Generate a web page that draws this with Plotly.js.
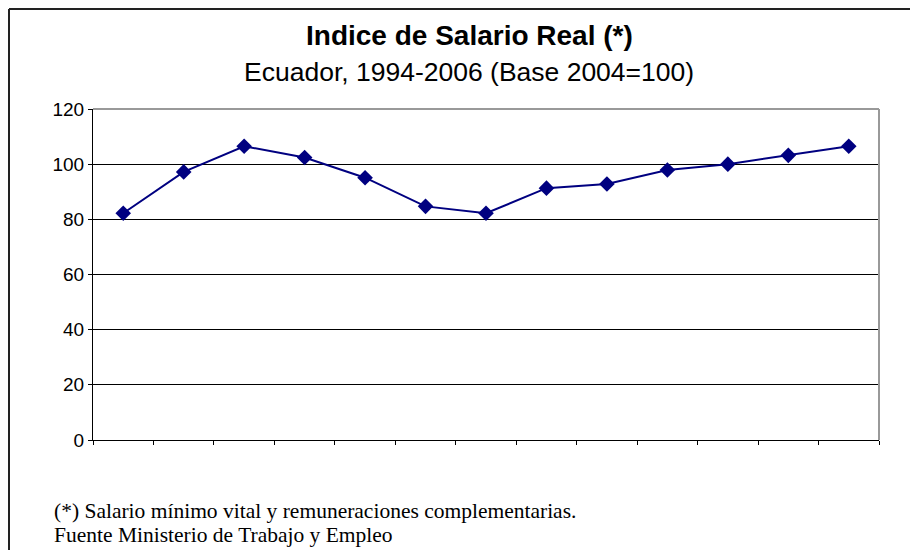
<!DOCTYPE html>
<html>
<head>
<meta charset="utf-8">
<script src="https://cdn.plot.ly/plotly-3.0.1.min.js"></script>
<style>
html,body{margin:0;padding:0;background:#fff;}
#chart{width:910px;height:550px;}
</style>
</head>
<body>
<div id="chart"></div>
<script>
const years = ["1994","1995","1996","1997","1998","1999","2000","2001","2002","2003","2004","2005","2006"];
const salarioReal = [82.2, 97.2, 106.5, 102.4, 95.1, 84.7, 82.2, 91.3, 92.8, 97.9, 100.0, 103.2, 106.5];
const yTicks = [0, 20, 40, 60, 80, 100, 120];

const titleText = "<b>Indice de Salario Real (*)</b>";
const subtitleText = "Ecuador, 1994-2006 (Base 2004=100)";
const note1 = "(*) Salario mínimo vital y remuneraciones complementarias.";
const note2 = "Fuente Ministerio de Trabajo y Empleo";

const L = 93, R = 879, T = 109, B = 440, W = 910, H = 550;
const px = x => (x - L) / (R - L);
const py = y => (B - y) / (B - T);

const trace = {
  x: years,
  y: salarioReal,
  type: "scatter",
  mode: "lines+markers",
  line: {color: "#000080", width: 2},
  marker: {symbol: "diamond", size: 12, color: "#000080"},
  hoverinfo: "x+y"
};

const layout = {
  width: W, height: H,
  margin: {l: L, r: W - R, t: T, b: H - B, pad: 0},
  paper_bgcolor: "#ffffff",
  plot_bgcolor: "#ffffff",
  showlegend: false,
  font: {family: "Liberation Sans, Arial, sans-serif", color: "#000"},
  xaxis: {
    type: "category",
    range: [-0.5, years.length - 0.5],
    autorange: false,
    showticklabels: false,
    showgrid: false,
    ticks: "outside",
    tickson: "boundaries",
    ticklen: 4,
    tickcolor: "#000",
    tickwidth: 1,
    showline: true,
    linecolor: "#000",
    linewidth: 1,
    mirror: false,
    zeroline: false,
    fixedrange: true
  },
  yaxis: {
    range: [0, 120],
    tickvals: yTicks,
    ticktext: yTicks.map(String),
    ticks: "outside",
    ticklen: 4,
    tickcolor: "#000",
    tickfont: {size: 19, family: "Liberation Sans, Arial, sans-serif", color: "#000"},
    showgrid: true,
    gridcolor: "#000",
    gridwidth: 1,
    showline: true,
    linecolor: "#000",
    linewidth: 1,
    zeroline: false,
    fixedrange: true
  },
  shapes: [
    {type: "line", xref: "paper", yref: "paper", x0: 0, x1: 1, y0: 1, y1: 1, line: {color: "#999", width: 2}},
    {type: "line", xref: "paper", yref: "paper", x0: 1, x1: 1, y0: 0, y1: 1, line: {color: "#999", width: 2}},
    {type: "line", xref: "paper", yref: "paper", x0: px(9), x1: px(912), y0: py(9), y1: py(9), line: {color: "#222", width: 2}},
    {type: "line", xref: "paper", yref: "paper", x0: px(9), x1: px(9), y0: py(9), y1: py(552), line: {color: "#222", width: 2}}
  ],
  annotations: [
    {text: titleText, xref: "paper", yref: "paper", x: px(469), y: py(35), xanchor: "center", yanchor: "middle", showarrow: false,
     font: {size: 28, family: "Liberation Sans, Arial, sans-serif", color: "#000"}},
    {text: subtitleText, xref: "paper", yref: "paper", x: px(469), y: py(72), xanchor: "center", yanchor: "middle", showarrow: false,
     font: {size: 26.5, family: "Liberation Sans, Arial, sans-serif", color: "#000"}},
    {text: note1, xref: "paper", yref: "paper", x: px(52), y: py(511), xanchor: "left", yanchor: "middle", showarrow: false,
     font: {size: 21.5, family: "Liberation Serif, Times New Roman, serif", color: "#000"}},
    {text: note2, xref: "paper", yref: "paper", x: px(52), y: py(535), xanchor: "left", yanchor: "middle", showarrow: false,
     font: {size: 21.5, family: "Liberation Serif, Times New Roman, serif", color: "#000"}}
  ]
};

Plotly.newPlot("chart", [trace], layout, {displayModeBar: false, staticPlot: true});
</script>
</body>
</html>
